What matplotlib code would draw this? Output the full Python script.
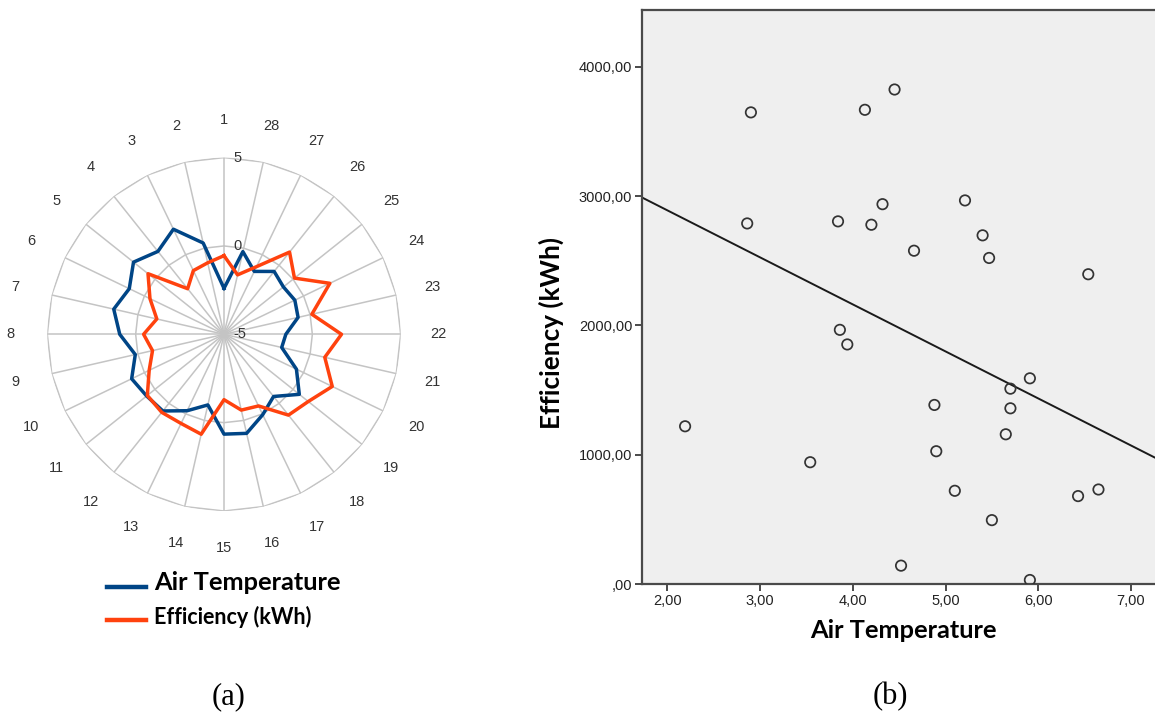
import numpy as np
import matplotlib
matplotlib.use("Agg")
import matplotlib.pyplot as plt
from matplotlib.lines import Line2D
import matplotlib.transforms as mtransforms

# ---------------- data: radar (a) ----------------
days = [str(i) for i in range(1, 29)]
air_temperature = [-2.4, 0.3, 1.6, 1.0, 1.55, 0.95, 1.4, 0.9, 0.15, 0.8,
                   0.6, 0.55, -0.2, -0.9, 0.65, 0.75, 0.05, -0.5, 0.45, -0.45,
                   -1.65, -1.5, -0.7, -0.55, -0.7, -0.45, -1.05, -0.2]
efficiency_scaled = [-0.55, -0.85, -1.0, -1.7, 0.5, -0.35, -1.1, -0.45, -0.85, -0.3,
                     0.55, 0.65, 0.6, 0.8, -1.3, -0.6, -0.5, 0.85, 1.1, 1.8,
                     0.85, 1.65, 0.1, 1.65, 0.1, 0.95, -0.75, -1.55]
radar_ticks = [-5, 0, 5]
radar_tick_labels = ["-5", "0", "5"]
series_names = ["Air Temperature", "Efficiency (kWh)"]

# ---------------- data: scatter (b) ----------------
scatter_temp = [2.90, 4.13, 4.45, 2.86, 3.84, 4.20, 4.32, 5.21, 4.66, 5.40, 5.47, 6.54,
                3.86, 3.94, 2.19, 3.54, 4.88, 4.90, 5.10, 5.70, 5.70, 5.65, 5.91, 5.50,
                6.43, 6.65, 4.52, 5.91]
scatter_eff = [3648, 3668, 3825, 2789, 2805, 2779, 2938, 2967, 2578, 2697, 2522, 2396,
               1966, 1853, 1220, 942, 1385, 1027, 721, 1511, 1359, 1158, 1591, 494,
               680, 731, 142, 31]
x_ticks = [2, 3, 4, 5, 6, 7]
x_tick_labels = ["2,00", "3,00", "4,00", "5,00", "6,00", "7,00"]
y_ticks = [0, 1000, 2000, 3000, 4000]
y_tick_labels = [",00", "1000,00", "2000,00", "3000,00", "4000,00"]

# ---------------- figure ----------------
W, H = 1155, 718
fig = plt.figure(figsize=(W / 100, H / 100), dpi=100)
fig.patch.set_facecolor("white")

def fx(px):
    return px / W

def fy(py):
    return 1 - py / H

BLUE = "#004586"
ORANGE = "#FF420E"
GRID = "#c4c4c4"
TXT = "#333333"

# ---------------- radar ----------------
cx, cy, R = 224, 334.3, 176.7
axr = fig.add_axes([fx(cx - R), fy(cy + R), 2 * R / W, 2 * R / H], projection="polar")
axr.set_theta_zero_location("N")
axr.set_theta_direction(1)
n = len(days)
angles = np.arange(n) * 2 * np.pi / n
closed = np.append(angles, angles[0])
axr.set_ylim(radar_ticks[0], radar_ticks[-1])
axr.set_xticks(angles)
axr.set_xticklabels([])
axr.set_yticks([])
axr.spines["polar"].set_visible(False)
axr.xaxis.grid(True, color=GRID, lw=1.1)
axr.set_facecolor("none")
for r in radar_ticks[1:]:
    axr.plot(closed, [r] * (n + 1), color=GRID, lw=1.1, zorder=1)

axr.plot(closed, np.append(air_temperature, air_temperature[0]), color=BLUE, lw=2.5, zorder=3)
axr.plot(closed, np.append(efficiency_scaled, efficiency_scaled[0]), color=ORANGE, lw=2.5, zorder=4)

label_r = -5 + 214 / R * 10
for a, lab in zip(angles, days):
    axr.text(a, label_r, lab, ha="center", va="center", fontsize=10.5,
             color=TXT, family="Liberation Sans", clip_on=False)

off = mtransforms.offset_copy(axr.transData, fig=fig, x=9, y=0, units="dots")
for r, lab in zip(radar_ticks, radar_tick_labels):
    axr.text(0, r, lab, transform=off, ha="left", va="center", fontsize=10.5,
             color=TXT, family="Liberation Sans", zorder=5)

# legend
fig.add_artist(Line2D([fx(106.7), fx(146)], [fy(586.7), fy(586.7)], color=BLUE, lw=3.2))
fig.add_artist(Line2D([fx(106.7), fx(146)], [fy(620), fy(620)], color=ORANGE, lw=3.2))
fig.text(fx(154), fy(590), series_names[0], fontsize=18.3, fontweight="bold",
         family="Lato", color="black", va="baseline", ha="left")
fig.text(fx(154), fy(624.3), series_names[1], fontsize=15.5, fontweight="bold",
         family="Lato", color="black", va="baseline", ha="left")

# ---------------- scatter ----------------
left, top, bottom = 642, 10, 584
axs = fig.add_axes([fx(left), fy(bottom), (W - left) / W, (bottom - top) / H])
axs.set_facecolor("#efefef")
axs.scatter(scatter_temp, scatter_eff, s=56, facecolors="none", edgecolors="#333333",
            linewidths=1.25, zorder=3)
xlim = (1.725, 7.26)
axs.set_xlim(xlim)
axs.set_ylim(0, 4440)
slope, intercept = np.polyfit(scatter_temp, scatter_eff, 1)
xl = np.array(xlim)
axs.plot(xl, intercept + slope * xl, color="#1a1a1a", lw=1.4, zorder=2)

axs.set_xticks(x_ticks)
axs.set_xticklabels(x_tick_labels)
axs.set_yticks(y_ticks)
axs.set_yticklabels(y_tick_labels)
for s in ["left", "bottom", "top"]:
    axs.spines[s].set_color("#4a4a4a")
    axs.spines[s].set_linewidth(1.6)
axs.spines["right"].set_visible(False)
axs.tick_params(direction="out", length=5, width=1.4, color="#4a4a4a",
                labelsize=10.5, pad=2, labelcolor="#222222")
for t in axs.get_xticklabels() + axs.get_yticklabels():
    t.set_family("Liberation Sans")

fig.text(fx(903), fy(638.3), "Air Temperature", fontsize=18.3, fontweight="bold",
         family="Lato", ha="center", va="baseline", color="black")
fig.text(fx(551), fy(333), "Efficiency (kWh)", fontsize=18.8, fontweight="bold",
         family="Lato", ha="center", va="center", rotation=90, color="black")

# panel captions
fig.text(fx(229), fy(697), "(a)", fontsize=22, family="Liberation Serif",
         ha="center", va="center", color="black")
fig.text(fx(890), fy(697), "(b)", fontsize=22, family="Liberation Serif",
         ha="center", va="center", color="black")

fig.savefig("out.png", dpi=100)
